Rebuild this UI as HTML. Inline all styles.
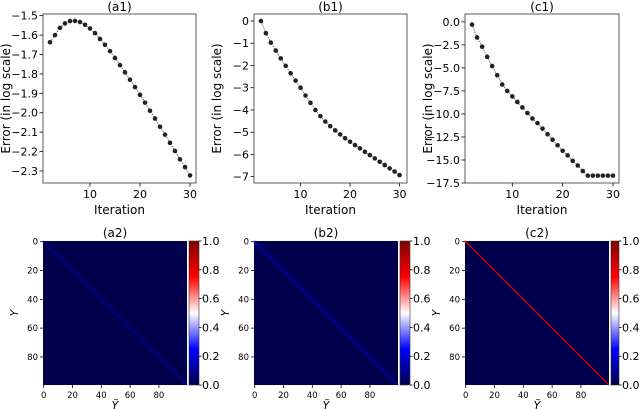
<!DOCTYPE html>
<html><head><meta charset="utf-8"><style>
body{margin:0;background:#fff;}
svg{display:block;font-family:"DejaVu Sans","Liberation Sans",sans-serif;}
</style></head><body>
<svg id="fig" width="640" height="409" viewBox="0 0 640 409" xmlns="http://www.w3.org/2000/svg">
<defs>
<linearGradient id="seis" x1="0" y1="1" x2="0" y2="0">
<stop offset="0" stop-color="#00004c"/><stop offset="0.25" stop-color="#0000ff"/><stop offset="0.5" stop-color="#ffffff"/><stop offset="0.75" stop-color="#ff0000"/><stop offset="1" stop-color="#800000"/>
</linearGradient>
</defs>
</svg>
<script>
const iters=[2,3,4,5,6,7,8,9,10,11,12,13,14,15,16,17,18,19,20,21,22,23,24,25,26,27,28,29,30];
const errA=[-1.637,-1.60,-1.563,-1.54,-1.528,-1.527,-1.533,-1.547,-1.566,-1.59,-1.62,-1.65,-1.683,-1.718,-1.755,-1.792,-1.83,-1.868,-1.908,-1.948,-1.99,-2.03,-2.072,-2.113,-2.155,-2.197,-2.24,-2.28,-2.323];
const errB=[0,-0.55,-0.97,-1.33,-1.68,-2.02,-2.35,-2.68,-3.0,-3.35,-3.68,-4.0,-4.28,-4.52,-4.73,-4.92,-5.1,-5.27,-5.43,-5.58,-5.73,-5.88,-6.03,-6.18,-6.33,-6.48,-6.63,-6.77,-6.93];
const errC=[-0.3,-1.7,-2.7,-3.8,-4.8,-5.8,-6.8,-7.5,-8.1,-8.7,-9.3,-9.9,-10.5,-11.0,-11.6,-12.2,-12.8,-13.4,-14.0,-14.5,-15.1,-15.6,-16.2,-16.7,-16.7,-16.7,-16.7,-16.7,-16.7];
const xTicks=[10,20,30];
const yTicksA=[-1.5,-1.6,-1.7,-1.8,-1.9,-2.0,-2.1,-2.2,-2.3];
const yTicksB=[0,-1,-2,-3,-4,-5,-6,-7];
const yTicksC=[0,-2.5,-5,-7.5,-10,-12.5,-15,-17.5];
const hmTicks=[0,20,40,60,80];
const cbTicks=[0,0.2,0.4,0.6,0.8,1.0];
const diagVals=[0.12,0.2,0.8];
const NS='http://www.w3.org/2000/svg';
const svg=document.getElementById('fig');
function el(t,a,p){const e=document.createElementNS(NS,t);for(const k in a)e.setAttribute(k,a[k]);(p||svg).appendChild(e);return e;}
function txt(x,y,s,a,p){const e=el('text',Object.assign({x:x,y:y},a),p);e.textContent=s;return e;}
function seis(v){const st=[[0,[0,0,76]],[0.25,[0,0,255]],[0.5,[255,255,255]],[0.75,[255,0,0]],[1,[128,0,0]]];for(let i=0;i<4;i++){const a=st[i],b=st[i+1];if(v<=b[0]){const t=(v-a[0])/(b[0]-a[0]);return 'rgb('+a[1].map((c,j)=>Math.round(c+(b[1][j]-c)*t)).join(',')+')';}}return 'rgb(128,0,0)';}
const lines=[
 {name:'a1',L:43,R:196,T:14,B:183,x0:0.6,x1:31.2,y0:-2.362,y1:-1.4915,data:errA,ticks:yTicksA,fmt:v=>v.toFixed(1)},
 {name:'b1',L:254,R:407,T:14,B:183,x0:0.6,x1:31.5,y0:-7.285,y1:0.315,data:errB,ticks:yTicksB,fmt:v=>String(v)},
 {name:'c1',L:465,R:619,T:14,B:183,x0:0.6,x1:31.2,y0:-17.5,y1:0.85,data:errC,ticks:yTicksC,fmt:v=>v.toFixed(1)}
];
lines.forEach(p=>{
 const g=el('g',{});
 
 
 const X=v=>p.L+(v-p.x0)/(p.x1-p.x0)*(p.R-p.L);
 const Y=v=>p.B-(v-p.y0)/(p.y1-p.y0)*(p.B-p.T);
 const t=txt((p.L+p.R)/2,p.T-3,'('+p.name+')',{'text-anchor':'middle','font-size':12},g);
 
 xTicks.forEach(v=>{el('line',{x1:X(v),x2:X(v),y1:p.B,y2:p.B+3.5,stroke:'#000','stroke-width':0.8},g);txt(X(v),p.B+15,String(v),{'text-anchor':'middle','font-size':11},g);});
 p.ticks.forEach(v=>{el('line',{x1:p.L-3.5,x2:p.L,y1:Y(v),y2:Y(v),stroke:'#000','stroke-width':0.8},g);txt(p.L-5,Y(v)+4,p.fmt(v).replace('-','\u2212'),{'text-anchor':'end','font-size':11},g);});
 const xl=txt((p.L+p.R)/2,p.B+31,'Iteration',{'text-anchor':'middle','font-size':12},g);
 
 const yl=txt(0,0,'Error (in log scale)',{'text-anchor':'middle','font-size':12,transform:'translate('+(p.L-33)+','+((p.T+p.B)/2)+') rotate(-90)'},g);
 
 const pts=iters.map((x,i)=>X(x)+','+Y(p.data[i])).join(' ');
 const pl=el('polyline',{points:pts,fill:'none',stroke:'#555','stroke-width':0.8,'stroke-dasharray':'1.5,1'},g);
 
 iters.forEach((x,i)=>{const c=el('circle',{cx:X(x),cy:Y(p.data[i]),r:2.3,fill:'#222'},g);
  });
 el('rect',{x:p.L,y:p.T,width:p.R-p.L,height:p.B-p.T,fill:'none',stroke:'#333','stroke-width':0.8},g);
});
const hms=[{name:'a2',L:43,cw:10},{name:'b2',L:254,cw:10},{name:'c2',L:465,cw:8}];
hms.forEach((h,k)=>{
 const T=241,S=144,g=el('g',{});
 
 
 const U=v=>v/100*S;
 const t=txt(h.L+S/2,T-4,'('+h.name+')',{'text-anchor':'middle','font-size':12},g);
 
 el('rect',{x:h.L,y:T,width:S,height:S,fill:seis(0)},g);
 const d=el('line',{x1:h.L+U(0),y1:T+U(0),x2:h.L+U(100),y2:T+U(100),stroke:seis(diagVals[k]),'stroke-width':1.3},g);
 
 hmTicks.forEach(v=>{const p=U(v+0.5);
  el('line',{x1:h.L+p,x2:h.L+p,y1:T+S,y2:T+S+3,stroke:'#000','stroke-width':0.8},g);
  txt(h.L+p,T+S+13,String(v),{'text-anchor':'middle','font-size':8.5},g);
  el('line',{x1:h.L-3,x2:h.L,y1:T+p,y2:T+p,stroke:'#000','stroke-width':0.8},g);
  txt(h.L-5,T+p+3,String(v),{'text-anchor':'end','font-size':8.5},g);});
 txt(h.L+S/2,T+S+24,'\u1EF8',{'text-anchor':'middle','font-size':11,'font-style':'italic'},g);
 txt(0,0,'Y',{'text-anchor':'middle','font-size':11,'font-style':'italic',transform:'translate('+(h.L-25)+','+(T+S/2)+') rotate(-90)'},g);
 const cx=h.L+S+2,cw=h.cw;
 const cb=el('rect',{x:cx,y:T,width:cw,height:S,fill:'url(#seis)',stroke:'#333','stroke-width':0.6},g);
 
 cbTicks.forEach(v=>{const y=T+S-v*S;el('line',{x1:cx+cw,x2:cx+cw+2.5,y1:y,y2:y,stroke:'#000','stroke-width':0.8},g);
  txt(cx+cw+3,y+4,v.toFixed(1),{'font-size':11},g);});
});
</script>
</body></html>
